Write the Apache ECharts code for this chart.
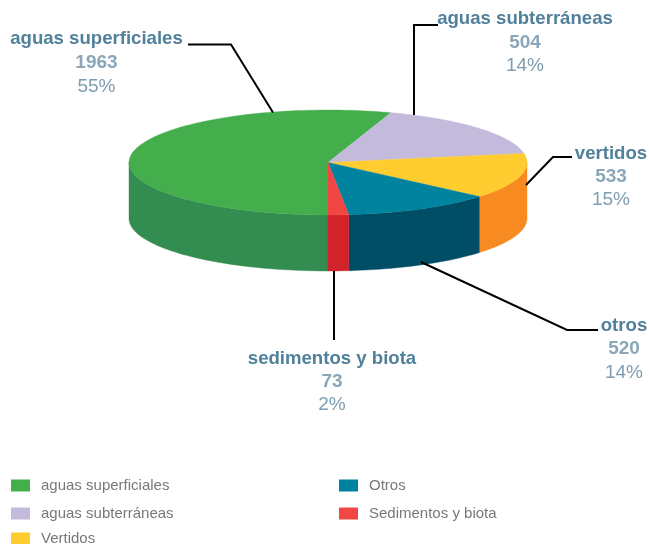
<!DOCTYPE html>
<html><head><meta charset="utf-8">
<style>html,body{margin:0;padding:0;background:#fff}#c{width:649px;height:544px}</style>
<script src="https://cdn.jsdelivr.net/npm/echarts@6/dist/echarts.min.js"></script>
</head><body><div id="c"></div>
<script>
const labelNames = ['aguas superficiales','aguas subterráneas','vertidos','otros','sedimentos y biota'];
const legendNames = ['aguas superficiales','aguas subterráneas','Vertidos','Otros','Sedimentos y biota'];
const values = [1963,504,533,520,73];
const percents = [55,14,15,14,2];
// Slice sweeps in degrees as drawn in the picture (the source illustration is not strictly proportional)
const sweeps = [198.4,61.6,50.5,43.5,6];

const topColors = ['#43ae4b','#c4badc','#ffcd2f','#00839f','#f04745'];
const sideColors = ['#338c50','#c4badc','#f78a21','#004d66','#d2232a'];
const pie = {cx:328,cy:162.5,rx:199,ry:52.5,depth:56,start:180};
const callouts = [
  {x:96.5,y:[39,63,87],line:[[188,44.5],[231,44.5],[273,112.5]]},
  {x:525,y:[19,43,66],line:[[438,25],[414,25],[414,115]]},
  {x:611,y:[154,177,200],line:[[572,157],[553,157],[526,185]]},
  {x:624,y:[326,349,373],line:[[598,330],[567,330],[421,262]]},
  {x:332,y:[359,382,405],line:[[334,340],[334,271]]}
];
const pt=(a,dy)=>{const r=a*Math.PI/180;return [pie.cx+pie.rx*Math.sin(r),pie.cy-pie.ry*Math.cos(r)+(dy||0)];};
const arc=(a0,a1,dy)=>{const n=Math.max(2,Math.ceil(Math.abs(a1-a0)/1.5));const p=[];for(let i=0;i<=n;i++)p.push(pt(a0+(a1-a0)*i/n,dy));return p;};

function startOf(i){let s=pie.start;for(let k=0;k<i;k++)s+=sweeps[k];return s;}
function wall(a0,a1){
  // only the part of the rim between 90° and 270° (also +360°) faces the viewer
  const out=[];
  [[90,270],[450,630]].forEach(([lo,hi])=>{
    const s=Math.max(a0,lo),e=Math.min(a1,hi);
    if(e>s) out.push(arc(s,e,0).concat(arc(e,s,pie.depth)));
  });
  return out;
}
function render(i){
  return function(params,api){
    const value=api.value(0),pct=api.value(1),sweep=api.value(2);
    const a0=startOf(i),a1=a0+sweep;
    const ch=[];
    const line=callouts[i].line;
    ch.push({type:'polyline',z2:15,shape:{points:line},style:{fill:null,stroke:'#000',lineWidth:2}});
    wall(a0,a1).forEach(p=>ch.push({type:'polygon',z2:5,shape:{points:p},style:{fill:sideColors[i],stroke:sideColors[i],lineWidth:0.4}}));
    ch.push({type:'polygon',z2:10,shape:{points:[[pie.cx,pie.cy]].concat(arc(a0,a1,0))},style:{fill:topColors[i],stroke:topColors[i],lineWidth:0.4}});
    const c=callouts[i];
    const T=(t,y,font,col)=>({type:'text',z2:20,style:{text:t,x:c.x,y:y,align:'center',verticalAlign:'middle',font:font,fill:col}});
    ch.push(T(labelNames[i],c.y[0],'bold 18.6px "Liberation Sans"','#50809a'));
    ch.push(T(String(value),c.y[1],'bold 19px "Liberation Sans"','#8aa6b8'));
    ch.push(T(pct+'%',c.y[2],'19px "Liberation Sans"','#7d9db1'));
    return {type:'group',children:ch};
  };
}
const series=legendNames.map((n,i)=>({
  name:n,type:'custom',coordinateSystem:'none',silent:true,z:2,
  itemStyle:{color:topColors[i]},
  renderItem:render(i),
  data:[[values[i],percents[i],sweeps[i]]]
}));
const legendBase={orient:'vertical',icon:'rect',itemWidth:19,itemHeight:12,itemGap:13,selectedMode:false,
  textStyle:{color:'#77787b',fontSize:15,fontFamily:'Liberation Sans',padding:[0,0,0,6]},padding:0};
const chart=echarts.init(document.getElementById('c'),null,{renderer:'canvas'});
chart.setOption({
  animation:false,backgroundColor:'#fff',tooltip:{show:false},
  legend:[
    Object.assign({},legendBase,{left:11,top:478,data:legendNames.slice(0,2)}),
    Object.assign({},legendBase,{left:11,top:531,data:legendNames.slice(2,3)}),
    Object.assign({},legendBase,{left:339,top:478,data:legendNames.slice(3)})
  ],
  series:series
});
</script></body></html>
